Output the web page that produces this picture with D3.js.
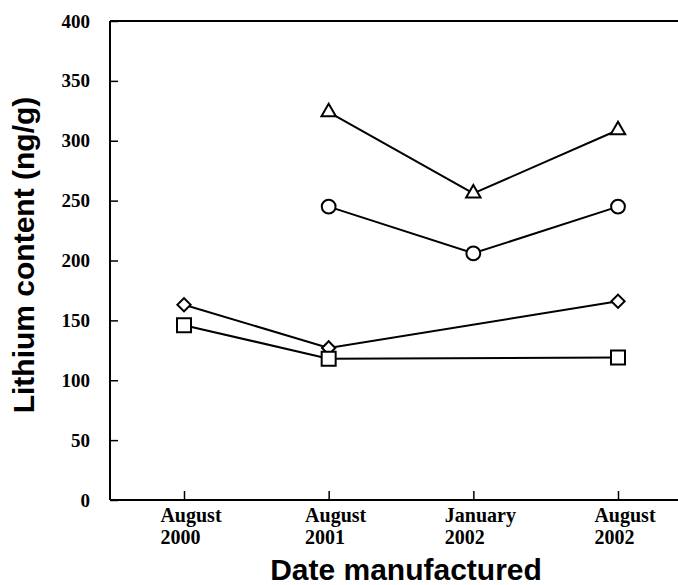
<!DOCTYPE html>
<meta charset="utf-8">
<style>
    body { margin: 0; background: #fff; }
    .tick-label { font-family: "Liberation Serif", "Times New Roman", serif; font-weight: bold; font-size: 19px; fill: #000; }
    .date-label { font-size: 20px; }
    .title { font-family: "Liberation Sans", Arial, sans-serif; font-weight: bold; font-size: 30px; fill: #000; }
    .series { fill: none; stroke: #000; stroke-width: 2; }
    .marker { fill: #fff; stroke: #000; stroke-width: 2; }
</style>
<svg width="678" height="585"></svg>
<script src="https://d3js.org/d3.v7.min.js"></script>
<script>

    var dates = [["August", "2000"], ["August", "2001"], ["January", "2002"], ["August", "2002"]];
    var yTicks = [0, 50, 100, 150, 200, 250, 300, 350, 400];

    // null = not measured
    var triangleVals = [null, 324, 256, 309];
    var circleVals   = [null, 245, 206, 245];
    var diamondVals  = [163, 127, null, 166];
    var squareVals   = [146, 118, null, 119];

    var svg = d3.select("svg"),
        plotLeft = 110, plotRight = 678, plotTop = 21, plotBottom = 500;

    var cats = dates.map(function(d) { return d.join(" "); });

    var x = d3.scalePoint().domain(cats).range([184, 618]);
    var y = d3.scaleLinear().domain([0, 400]).range([plotBottom, plotTop]);

    // frame: top line and bottom line run to the right edge
    svg.append("line").attr("x1", plotLeft).attr("x2", plotRight).attr("y1", plotTop).attr("y2", plotTop)
        .attr("stroke", "#000").attr("stroke-width", 2);

    var yAxis = svg.append("g")
        .attr("transform", "translate(" + plotLeft + ",0)")
        .call(d3.axisLeft(y).tickValues(yTicks).tickSize(-8).tickSizeOuter(0).tickFormat(d3.format("d")));
    yAxis.attr("font-size", null).attr("font-family", null);
    yAxis.select(".domain").attr("stroke-width", 2).attr("d", "M0," + plotTop + "V" + plotBottom);
    yAxis.selectAll(".tick line").attr("stroke-width", 1.5);
    yAxis.selectAll(".tick text").attr("class", "tick-label").attr("x", -20);

    var xAxis = svg.append("g")
        .attr("transform", "translate(0," + plotBottom + ")")
        .call(d3.axisBottom(x).tickSize(-9).tickSizeOuter(0).tickFormat(""));
    xAxis.select(".domain").attr("stroke-width", 2).attr("d", "M" + plotLeft + ",0H" + plotRight);
    xAxis.selectAll(".tick line").attr("stroke-width", 1.5);

    // two-line date labels, lines left aligned
    dates.forEach(function(d, i) {
        var cx = x(cats[i]) + 7;
        var t = svg.append("text").attr("class", "tick-label date-label");
        var l1 = t.append("tspan").attr("y", 522).text(d[0]);
        var w = l1.node().getComputedTextLength();
        var x0 = cx - w / 2;
        l1.attr("x", x0);
        t.append("tspan").attr("x", x0).attr("y", 544).text(d[1]);
    });

    var line = d3.line()
        .defined(function(d) { return d != null; })
        .x(function(d, i) { return x(cats[i]); })
        .y(function(d) { return y(d); });

    // diamond and square connect across the missing January point
    function joined(vals) {
        return vals.map(function(v, i) { return v == null ? null : [cats[i], v]; })
                   .filter(function(d) { return d; });
    }
    var line2 = d3.line().x(function(d) { return x(d[0]); }).y(function(d) { return y(d[1]); });

    svg.append("path").attr("class", "series").attr("d", line(triangleVals));
    svg.append("path").attr("class", "series").attr("d", line(circleVals));
    svg.append("path").attr("class", "series").attr("d", line2(joined(diamondVals)));
    svg.append("path").attr("class", "series").attr("d", line2(joined(squareVals))).attr("stroke-width", 1.6);

    // [values, symbol, size, rotation]
    var shapes = [
        [triangleVals, d3.symbolTriangle, 90, 0],
        [circleVals, d3.symbolCircle, 150, 0],
        [diamondVals, d3.symbolSquare, 88, 45],
        [squareVals, d3.symbolSquare, 196, 0]
    ];
    shapes.forEach(function(s) {
        svg.append("g").selectAll("path")
            .data(joined(s[0]))
            .enter().append("path")
            .attr("class", "marker")
            .attr("transform", function(d) { return "translate(" + x(d[0]) + "," + y(d[1]) + ") rotate(" + s[3] + ")"; })
            .attr("d", d3.symbol().type(s[1]).size(s[2]));
    });

    svg.append("text").attr("class", "title")
        .attr("x", 406).attr("y", 580)
        .attr("text-anchor", "middle")
        .text("Date manufactured");

    svg.append("text").attr("class", "title")
        .attr("transform", "translate(34,255) rotate(-90)")
        .attr("text-anchor", "middle")
        .text("Lithium content (ng/g)");

</script>
